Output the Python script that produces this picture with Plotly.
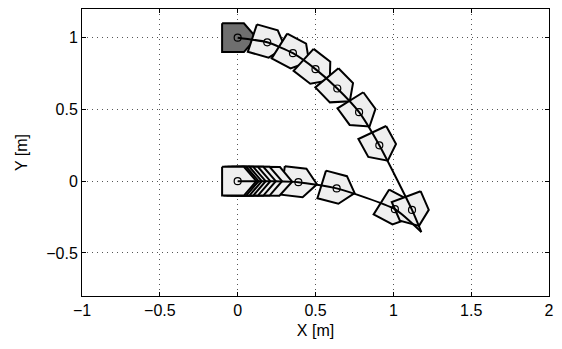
import numpy as np
import plotly.graph_objects as go

# ---- data ----
# upper robot poses: x [m], y [m], heading [deg]
top_x = [0.0, 0.19, 0.355, 0.50, 0.64, 0.78, 0.91, 1.12]
top_y = [1.0, 0.968, 0.892, 0.781, 0.646, 0.481, 0.25, -0.20]
top_theta = [0, -17, -30, -40, -48, -56, -63, -68]

# lower robot poses (slow start -> overlapping chevrons)
bot_x = [0.0, 0.015, 0.035, 0.06, 0.09, 0.125, 0.165, 0.23, 0.39, 0.636, 1.01]
bot_y = [0.0, 0.0, 0.0, 0.0, 0.0, 0.0, 0.0, -0.001, -0.007, -0.05, -0.195]
bot_theta = [0, 0, 0, 0, 0, 0, 0, -1, -7, -16, -30]

# trajectory lines
top_path_x = [0.0, 0.19, 0.355, 0.50, 0.64, 0.78, 0.91, 1.12, 1.18]
top_path_y = [1.0, 0.968, 0.892, 0.781, 0.646, 0.481, 0.25, -0.20, -0.355]
bot_path_x = [0.0, 0.23, 0.39, 0.636, 1.01, 1.18]
bot_path_y = [0.0, -0.001, -0.007, -0.05, -0.195, -0.355]

# circle markers (robot reference points)
mark_x = top_x + [0.0, 0.39, 0.636, 1.01]
mark_y = top_y + [0.0, -0.007, -0.05, -0.195]

x_ticks = [-1, -0.5, 0, 0.5, 1, 1.5, 2]
y_ticks = [-0.5, 0, 0.5, 1]

# robot body outline in its own frame [m]
SHAPE_X = np.array([-0.1, 0.04, 0.12, 0.04, -0.1, -0.1])
SHAPE_Y = np.array([0.1, 0.1, 0.0, -0.1, -0.1, 0.1])


def body(cx, cy, deg):
    t = np.deg2rad(deg)
    c, s = np.cos(t), np.sin(t)
    return cx + SHAPE_X * c - SHAPE_Y * s, cy + SHAPE_X * s + SHAPE_Y * c


fig = go.Figure()

def add_robot(cx, cy, deg, fill):
    px, py = body(cx, cy, deg)
    fig.add_trace(go.Scatter(x=px, y=py, mode="lines", fill="toself",
                             fillcolor=fill, line=dict(color="black", width=2),
                             hoverinfo="skip", showlegend=False))

# lower robot: later poses drawn first, so earlier bodies lie on top
for cx, cy, th in reversed(list(zip(bot_x, bot_y, bot_theta))):
    add_robot(cx, cy, th, "#efefef")
for i, (cx, cy, th) in enumerate(zip(top_x, top_y, top_theta)):
    add_robot(cx, cy, th, "#6f6f6f" if i == 0 else "#efefef")

for px, py in ((top_path_x, top_path_y), (bot_path_x, bot_path_y)):
    fig.add_trace(go.Scatter(x=px, y=py, mode="lines",
                             line=dict(color="black", width=2, shape="spline", smoothing=0.6),
                             hoverinfo="skip", showlegend=False))

fig.add_trace(go.Scatter(x=mark_x, y=mark_y, mode="markers",
                         marker=dict(symbol="circle-open", size=7,
                                     color="black", line=dict(width=1.2)),
                         hoverinfo="skip", showlegend=False))

axis_common = dict(showline=True, linecolor="black", linewidth=1, mirror="ticks",
                   ticks="inside", ticklen=4, tickcolor="black", automargin=False,
                   showgrid=True, gridcolor="#555555", griddash="1px,4px", gridwidth=1,
                   zeroline=False, tickfont=dict(size=16, color="black"))

fig.update_xaxes(range=[-1, 2], tickvals=x_ticks,
                 ticktext=[str(v).replace("-", "\u2212") for v in x_ticks],
                 title=dict(text="X [m]", font=dict(size=16, color="black"), standoff=6),
                 **axis_common)
fig.update_yaxes(range=[-0.8, 1.2], tickvals=y_ticks,
                 ticktext=[str(v).replace("-", "\u2212") for v in y_ticks],
                 title=dict(text="Y [m]", font=dict(size=16, color="black"), standoff=14),
                 **axis_common)

# page body adds an 8px margin; size the figure to fill the rest
fig.update_layout(width=546, height=333,
                  margin=dict(l=74, r=5, t=1, b=45),
                  paper_bgcolor="white", plot_bgcolor="white",
                  font=dict(family="Liberation Sans, Arial, sans-serif", color="black"),
                  showlegend=False)

fig.write_html("out.html")
